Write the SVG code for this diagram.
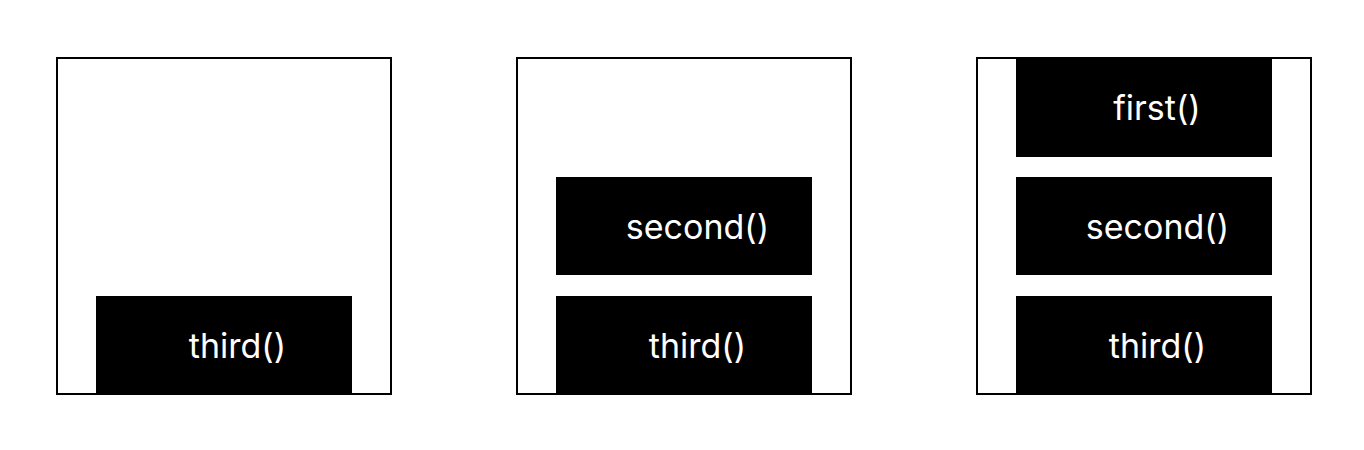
<svg xmlns="http://www.w3.org/2000/svg" width="1364" height="450" viewBox="0 0 1364 450">
<style>
.frame{fill:#fff;stroke:#000;stroke-width:2}
.box{fill:#000}
.lbl{fill:#fff;font-family:Inter,"Noto Sans",sans-serif;font-size:34px;text-anchor:middle}
</style>
<rect width="1364" height="450" fill="#fff"/>
<g id="stack1">
<rect class="frame" x="57" y="58" width="334" height="336"/>
<g id="s1-third"><rect class="box" x="96" y="296" width="256" height="98"/><text class="lbl" x="237.5" y="357.5">third()</text></g>
</g>
<g id="stack2">
<rect class="frame" x="517" y="58" width="334" height="336"/>
<g id="s2-second"><rect class="box" x="556" y="177" width="256" height="98"/><text class="lbl" x="697.5" y="238.5">second()</text></g>
<g id="s2-third"><rect class="box" x="556" y="296" width="256" height="98"/><text class="lbl" x="697.5" y="357.5">third()</text></g>
</g>
<g id="stack3">
<rect class="frame" x="977" y="58" width="334" height="336"/>
<g id="s3-first"><rect class="box" x="1016" y="58" width="256" height="99"/><text class="lbl" x="1157" y="120">first()</text></g>
<g id="s3-second"><rect class="box" x="1016" y="177" width="256" height="98"/><text class="lbl" x="1157.5" y="238.5">second()</text></g>
<g id="s3-third"><rect class="box" x="1016" y="296" width="256" height="98"/><text class="lbl" x="1157.5" y="357.5">third()</text></g>
</g>
<g id="connectors"/>
</svg>
